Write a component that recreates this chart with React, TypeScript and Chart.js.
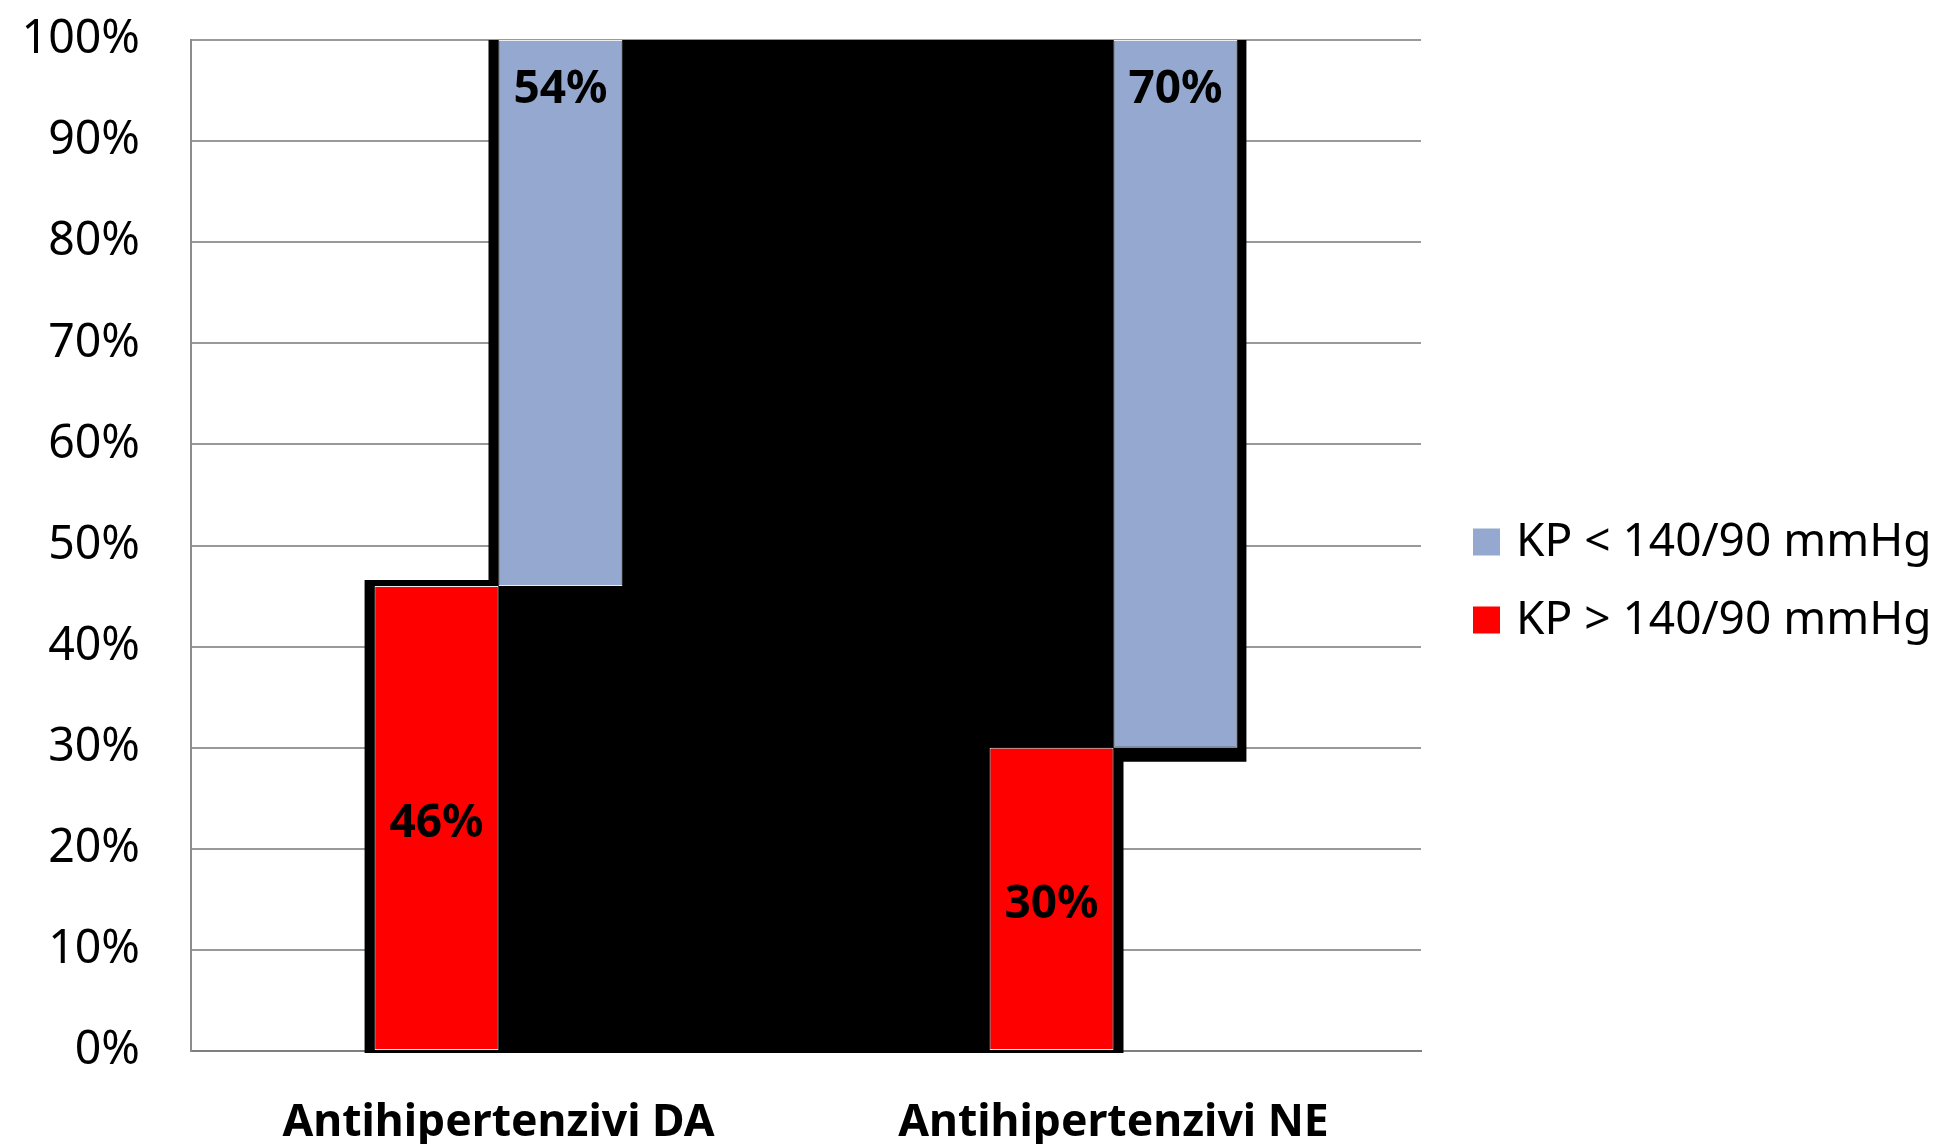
import React, { useEffect, useRef } from 'react';
import { Chart, registerables } from 'chart.js';

Chart.register(...registerables);

// Categories and the two blood-pressure groups (percent of patients)
const categories = ['Antihipertenzivi DA', 'Antihipertenzivi NE'];
const seriesLabels = ['KP > 140/90 mmHg', 'KP < 140/90 mmHg'];
const aboveTarget = [46, 30]; // KP > 140/90 mmHg
const belowTarget = [54, 70]; // KP < 140/90 mmHg
const seriesColors = ['#FF0000', '#95A9D0'];

const FONT = '"Noto Sans", "Open Sans", sans-serif';

// Dark stepped backdrop that wraps both groups of bars
const backdropPlugin = {
  id: 'backdrop',
  beforeDatasetsDraw(chart: any) {
    const red = chart.getDatasetMeta(0).data;
    const blue = chart.getDatasetMeta(1).data;
    if (!red.length || !blue.length) return;
    const y = chart.scales.y;
    const side = 10;
    const p = (el: any) => el.getProps(['x', 'y', 'base', 'width'], true);
    const rA = p(red[0]);
    const bA = p(blue[0]);
    const rB = p(red[1]);
    const bB = p(blue[1]);
    const top = y.getPixelForValue(100);
    const bottom = y.getPixelForValue(0) + 2;
    const ctx = chart.ctx;
    ctx.save();
    ctx.fillStyle = '#000000';
    ctx.beginPath();
    ctx.moveTo(rA.x - rA.width / 2 - side, bottom);
    ctx.lineTo(rA.x - rA.width / 2 - side, rA.y - 6);
    ctx.lineTo(bA.x - bA.width / 2 - side, rA.y - 6);
    ctx.lineTo(bA.x - bA.width / 2 - side, top);
    ctx.lineTo(bB.x + bB.width / 2 + side - 1, top);
    ctx.lineTo(bB.x + bB.width / 2 + side - 1, bB.base + 14);
    ctx.lineTo(rB.x + rB.width / 2 + side, bB.base + 14);
    ctx.lineTo(rB.x + rB.width / 2 + side, bottom);
    ctx.closePath();
    ctx.fill();
    ctx.restore();
  },
};

// Percent labels on the bars
const valueLabelPlugin = {
  id: 'valueLabels',
  afterDatasetsDraw(chart: any) {
    const ctx = chart.ctx;
    ctx.save();
    ctx.fillStyle = '#000000';
    ctx.font = `bold 46px ${FONT}`;
    ctx.textAlign = 'center';
    ctx.textBaseline = 'middle';
    chart.getDatasetMeta(0).data.forEach((el: any, i: number) => {
      const { x, y, base } = el.getProps(['x', 'y', 'base'], true);
      ctx.fillText(`${aboveTarget[i]}%`, x, (y + base) / 2 + 6);
    });
    chart.getDatasetMeta(1).data.forEach((el: any, i: number) => {
      const { x, y } = el.getProps(['x', 'y'], true);
      ctx.fillText(`${belowTarget[i]}%`, x, y + 50);
    });
    ctx.restore();
  },
};

// Legend on the right, upper group listed first
const sideLegendPlugin = {
  id: 'sideLegend',
  afterDraw(chart: any) {
    const ctx = chart.ctx;
    const order = [1, 0];
    const boxX = 1473;
    const textX = 1516;
    const rows = [542, 620];
    const box = 27;
    ctx.save();
    ctx.font = `46px ${FONT}`;
    ctx.textAlign = 'left';
    ctx.textBaseline = 'middle';
    order.forEach((di, r) => {
      const ds = chart.data.datasets[di];
      ctx.fillStyle = ds.backgroundColor;
      ctx.fillRect(boxX, rows[r] - box / 2, box, box);
      ctx.fillStyle = '#000000';
      ctx.fillText(ds.label, textX, rows[r] + 1);
    });
    ctx.restore();
  },
};

export default function App() {
  const canvasRef = useRef<HTMLCanvasElement | null>(null);

  useEffect(() => {
    if (!canvasRef.current) return;
    const chart = new Chart(canvasRef.current, {
      type: 'bar',
      data: {
        labels: categories,
        datasets: [
          {
            label: seriesLabels[0],
            data: aboveTarget,
            backgroundColor: seriesColors[0],
            borderColor: '#EDEDED',
            borderWidth: 1,
            borderSkipped: false,
          },
          {
            label: seriesLabels[1],
            data: belowTarget.map((v, i) => [aboveTarget[i], aboveTarget[i] + v]),
            backgroundColor: seriesColors[1],
            borderColor: '#EDEDED',
            borderWidth: 1,
            borderSkipped: false,
          },
        ],
      },
      options: {
        responsive: false,
        animation: false,
        layout: { padding: { top: 40, right: 523, left: 0, bottom: 0 } },
        categoryPercentage: 0.403,
        barPercentage: 1,
        plugins: {
          legend: { display: false },
          tooltip: { enabled: false },
        },
        scales: {
          x: {
            grid: { display: false, drawTicks: false },
            border: { display: true, color: '#7F7F7F', width: 2 },
            ticks: {
              color: '#000000',
              padding: 46,
              font: { family: FONT, size: 44.5, weight: 'bold' },
            },
            afterFit(scale: any) {
              scale.height = 93;
              scale.paddingLeft = 0;
              scale.paddingRight = 0;
            },
          },
          y: {
            min: 0,
            max: 100,
            grid: { color: '#999999', lineWidth: 2, drawTicks: false },
            border: { display: true, color: '#8C8C8C', width: 2 },
            ticks: {
              stepSize: 10,
              color: '#000000',
              padding: 51,
              font: { family: FONT, size: 46.5 },
              callback: (v: any) => `${v}%`,
            },
            afterFit(scale: any) {
              scale.width = 191;
              scale.paddingTop = 0;
              scale.paddingBottom = 0;
            },
          },
        },
      } as any,
      plugins: [backdropPlugin, valueLabelPlugin, sideLegendPlugin],
    });
    return () => chart.destroy();
  }, []);

  return (
    <div style={{ position: 'fixed', left: 0, top: 0, width: 1944, height: 1144, background: '#ffffff' }}>
      <canvas ref={canvasRef} width={1944} height={1144} />
    </div>
  );
}
